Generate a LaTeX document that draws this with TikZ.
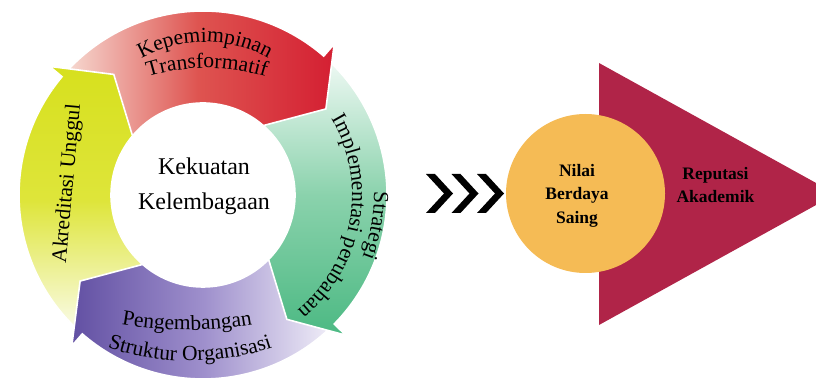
\documentclass[tikz,border=0pt]{standalone}
\usepackage{fontspec}
\setmainfont{Liberation Serif}
\usetikzlibrary{decorations.text}
\definecolor{redL}{RGB}{247,222,214}
\definecolor{redM}{RGB}{222,84,80}
\definecolor{redR}{RGB}{212,31,50}
\definecolor{grnL}{RGB}{242,250,246}
\definecolor{grnM}{RGB}{138,210,172}
\definecolor{grnR}{RGB}{76,185,131}
\definecolor{purL}{RGB}{98,80,163}
\definecolor{purM}{RGB}{158,143,204}
\definecolor{purR}{RGB}{242,240,249}
\definecolor{yelT}{RGB}{215,224,30}
\definecolor{yelM}{RGB}{222,229,58}
\definecolor{yelB}{RGB}{251,252,238}
\definecolor{orangeC}{RGB}{245,187,85}
\definecolor{crimsonT}{RGB}{176,36,72}
\newcommand{\ringarrow}[3]{(#1:184) arc[start angle=#1, end angle=#2, radius=184] -- (#2:200) -- (#3:150) -- (#2:92) arc[start angle=#2, end angle=#1, radius=92] -- cycle}
\newcommand{\arcfont}{\fontsize{21.5}{24}\selectfont}
\tikzset{
  arrowline/.style={draw=white, line width=1.6pt, line join=miter},
  redarrow/.style={arrowline, left color=redL, right color=redR, middle color=redM},
  grnarrow/.style={arrowline, top color=grnL, bottom color=grnR, middle color=grnM},
  purarrow/.style={arrowline, left color=purL, right color=purR, middle color=purM},
  yelarrow/.style={arrowline, top color=yelT, bottom color=yelB, middle color=yelM},
  arctext/.style={decorate, decoration={text along path, text align=center, text={|\arcfont|#1}}},
  centertext/.style={font=\fontsize{24}{28}\selectfont, anchor=base, inner sep=0pt},
  boldtext/.style={font=\bfseries\fontsize{17.5}{20}\selectfont, anchor=base, inner sep=0pt},
  chevron/.style={fill=black}
}
\begin{document}
\begin{tikzpicture}[x=1pt,y=1pt]
\useasboundingbox (0,0) rectangle (816,383);
\clip (0,0) rectangle (816,383);
% ring of arrows: each head lies over the next arrow's tail
\begin{scope}[shift={(203,188)}]
  \path[yelarrow] \ringarrow{229}{140}{126.5};
  \path[purarrow] \ringarrow{-44.5}{-131}{-145};
  \path[grnarrow] \ringarrow{49}{-44.5}{-56};
  \path[redarrow] \ringarrow{140}{49}{35};
  \begin{scope}
    \clip (0,0) -- (145:220) arc[start angle=145, end angle=118, radius=220] -- cycle;
    \path[yelarrow] \ringarrow{229}{140}{126.5};
  \end{scope}
\end{scope}
% texts along the arrows
\path[shift={(205,211)}, arctext={Kepemimpinan}] (140:130) arc[start angle=140, end angle=40, radius=130];
\path[shift={(207,115)}, arctext={Transformatif}] (125:200) arc[start angle=125, end angle=55, radius=200];
\path[shift={(203,188)}, arctext={Strategi}] (25:171) arc[start angle=25, end angle=-45, radius=171];
\path[shift={(203,188)}, arctext={Implementasi perubahan}] (60:149) arc[start angle=60, end angle=-80, radius=149];
\path[shift={(187,433)}, arctext={Pengembangan}] (-110:380) arc[start angle=-110, end angle=-70, radius=380];
\path[shift={(190,282)}, arctext={Struktur Organisasi}] (-125:260) arc[start angle=-125, end angle=-55, radius=260];
\path[arctext={Akreditasi Unggul}] (62.3,79.5) -- (83.7,318.5);
% centre text
\node[centertext] (kek1) at (204,208) {Kekuatan};
\node[centertext] (kek2) at (204,173) {Kelembagaan};
% chevrons
\foreach \xo in {426,451.5,477}{
  \path[chevron] (\xo,209) -- (\xo+9,209) -- (\xo+27,189.5) -- (\xo+9,170) -- (\xo,170) -- (\xo+18,189.5) -- cycle;
}
% triangle and circle
\fill[crimsonT] (599,320) -- (836,189) -- (599,58) -- cycle;
\fill[orangeC] (585.5,189.5) circle[radius=79.5];
\node[boldtext] (nil1) at (577,206.3) {Nilai};
\node[boldtext] (nil2) at (577,183) {Berdaya};
\node[boldtext] (nil3) at (577,159.7) {Saing};
\node[boldtext] (rep1) at (715.5,203.7) {Reputasi};
\node[boldtext] (rep2) at (715.5,180.3) {Akademik};
\end{tikzpicture}
\end{document}
